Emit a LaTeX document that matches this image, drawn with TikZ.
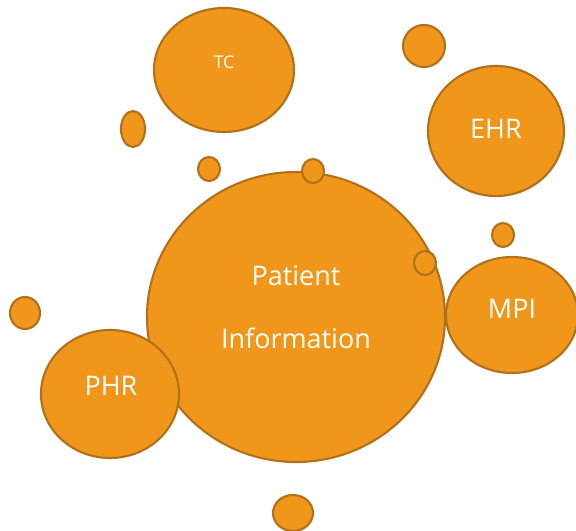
\documentclass[tikz,border=0pt]{standalone}
\usepackage{fontspec}
\setmainfont{Open Sans}
\usetikzlibrary{shapes.geometric}
\definecolor{bubblefill}{HTML}{F0961A}
\definecolor{bubbleline}{HTML}{B2701A}

\begin{document}
\begin{tikzpicture}[x=0.03cm, y=-0.03cm,
    bubble/.style 2 args={ellipse, draw=bubbleline, fill=bubblefill, line width=1.8pt,
      inner sep=0pt, minimum width={0.06cm*#1}, minimum height={0.06cm*#2}},
    label/.style={text=white, font=\fontsize{23}{26}\selectfont}]
  \clip (0, 0) rectangle (576, 531);
  % large bubbles
  \node[bubble={149}{145}] (info) at (296, 317) {};
  \node[bubble={70}{62}] (tc) at (224, 70) {};
  \node[bubble={68}{65}] (ehr) at (496, 131) {};
  \node[bubble={66}{58}] (mpi) at (512, 315) {};
  \node[bubble={69}{64}] (phr) at (110, 394) {};
  % small bubbles
  \foreach \x/\y/\rx/\ry [count=\i] in {133/129/12/18, 209/169/11/12, 313/171/11/12,
      424/46/21/21, 503/235/11/12, 425/263/11/12, 25/313/15/16, 293/513/20/18}
    {\node[bubble={\rx}{\ry}] (dot\i) at (\x, \y) {};}
  % labels
  \node[label] (infotop) at (296, 276) {Patient};
  \node[label] (infobot) at (296, 338) {Information};
  \node[label, font=\fontsize{15}{17}\selectfont] (tclabel) at (224, 62) {TC};
  \node[label] (ehrlabel) at (496, 129) {EHR};
  \node[label] (mpilabel) at (512, 309) {MPI};
  \node[label] (phrlabel) at (111, 386) {PHR};
\end{tikzpicture}
\end{document}
